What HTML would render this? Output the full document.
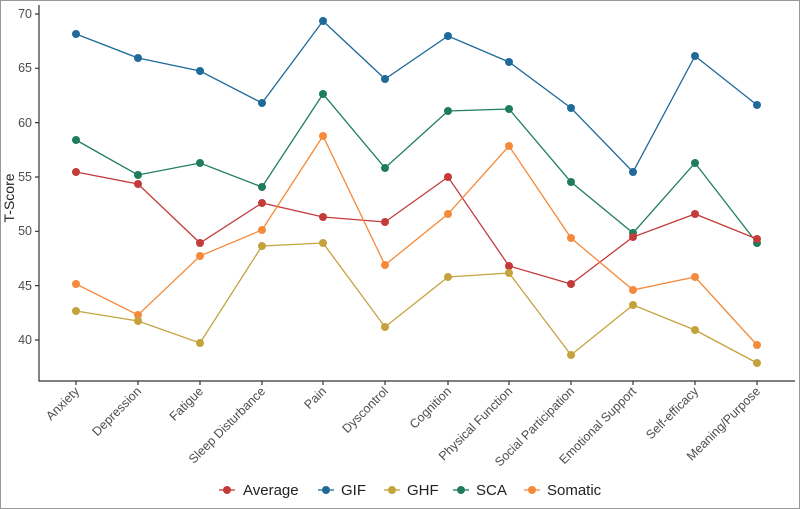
<!DOCTYPE html>
<html><head><style>body{margin:0;background:#fff}svg{display:block}text{font-family:"Liberation Sans",sans-serif}circle{r:4px}</style></head><body>
<svg width="800" height="509" viewBox="0 0 800 509" xmlns="http://www.w3.org/2000/svg">
<rect x="0.5" y="0.5" width="799" height="508" fill="#fff" stroke="#999"/>
<g stroke="#333" stroke-width="1.2" fill="none">
<path d="M39 5V381H795"/>
<path d="M35 14H39M35 68.3H39M35 122.6H39M35 177H39M35 231.3H39M35 285.6H39M35 340H39"/>
<path d="M76 381v4M138 381v4M200 381v4M262 381v4M323 381v4M385 381v4M448 381v4M509 381v4M571 381v4M633 381v4M695 381v4M757 381v4"/>
</g>
<g font-size="12.5" fill="#4d4d4d" text-anchor="end">
<text x="32" y="18">70</text><text x="32" y="72">65</text><text x="32" y="127">60</text><text x="32" y="181">55</text><text x="32" y="235">50</text><text x="32" y="290">45</text><text x="32" y="344">40</text>
</g>
<text transform="translate(14,198) rotate(-90)" font-size="14" fill="#222" text-anchor="middle">T-Score</text>
<g font-size="12.5" fill="#4d4d4d" text-anchor="end">
<text transform="translate(80,392) rotate(-45)">Anxiety</text>
<text transform="translate(142,392) rotate(-45)">Depression</text>
<text transform="translate(204,392) rotate(-45)">Fatigue</text>
<text transform="translate(266,392) rotate(-45)">Sleep Disturbance</text>
<text transform="translate(327,392) rotate(-45)">Pain</text>
<text transform="translate(389,392) rotate(-45)">Dyscontrol</text>
<text transform="translate(452,392) rotate(-45)">Cognition</text>
<text transform="translate(513,392) rotate(-45)">Physical Function</text>
<text transform="translate(575,392) rotate(-45)">Social Participation</text>
<text transform="translate(637,392) rotate(-45)">Emotional Support</text>
<text transform="translate(699,392) rotate(-45)">Self-efficacy</text>
<text transform="translate(761,392) rotate(-45)">Meaning/Purpose</text>
</g>
<g fill="none" stroke-width="1.3">
<polyline stroke="#1f6a99" points="76,34 138,58 200,71 262,103 323,21 385,79 448,36 509,62 571,108 633,172 695,56 757,105"/>
<polyline stroke="#1f7d5a" points="76,140 138,175 200,163 262,187 323,94 385,168 448,111 509,109 571,182 633,233 695,163 757,243"/>
<polyline stroke="#c43b3b" points="76,172 138,184 200,243 262,203 323,217 385,222 448,177 509,266 571,284 633,237 695,214 757,239"/>
<polyline stroke="#f58a3a" points="76,284 138,315 200,256 262,230 323,136 385,265 448,214 509,146 571,238 633,290 695,277 757,345"/>
<polyline stroke="#c4a23c" points="76,311 138,321 200,343 262,246 323,243 385,327 448,277 509,273 571,355 633,305 695,330 757,363"/>
</g>
<g fill="#1f6a99"><circle cx="76" cy="34" r="4"/><circle cx="138" cy="58" r="4"/><circle cx="200" cy="71" r="4"/><circle cx="262" cy="103" r="4"/><circle cx="323" cy="21" r="4"/><circle cx="385" cy="79" r="4"/><circle cx="448" cy="36" r="4"/><circle cx="509" cy="62" r="4"/><circle cx="571" cy="108" r="4"/><circle cx="633" cy="172" r="4"/><circle cx="695" cy="56" r="4"/><circle cx="757" cy="105" r="4"/></g>
<g fill="#1f7d5a"><circle cx="76" cy="140" r="4"/><circle cx="138" cy="175" r="4"/><circle cx="200" cy="163" r="4"/><circle cx="262" cy="187" r="4"/><circle cx="323" cy="94" r="4"/><circle cx="385" cy="168" r="4"/><circle cx="448" cy="111" r="4"/><circle cx="509" cy="109" r="4"/><circle cx="571" cy="182" r="4"/><circle cx="633" cy="233" r="4"/><circle cx="695" cy="163" r="4"/><circle cx="757" cy="243" r="4"/></g>
<g fill="#c43b3b"><circle cx="76" cy="172" r="4"/><circle cx="138" cy="184" r="4"/><circle cx="200" cy="243" r="4"/><circle cx="262" cy="203" r="4"/><circle cx="323" cy="217" r="4"/><circle cx="385" cy="222" r="4"/><circle cx="448" cy="177" r="4"/><circle cx="509" cy="266" r="4"/><circle cx="571" cy="284" r="4"/><circle cx="633" cy="237" r="4"/><circle cx="695" cy="214" r="4"/><circle cx="757" cy="239" r="4"/></g>
<g fill="#f58a3a"><circle cx="76" cy="284" r="4"/><circle cx="138" cy="315" r="4"/><circle cx="200" cy="256" r="4"/><circle cx="262" cy="230" r="4"/><circle cx="323" cy="136" r="4"/><circle cx="385" cy="265" r="4"/><circle cx="448" cy="214" r="4"/><circle cx="509" cy="146" r="4"/><circle cx="571" cy="238" r="4"/><circle cx="633" cy="290" r="4"/><circle cx="695" cy="277" r="4"/><circle cx="757" cy="345" r="4"/></g>
<g fill="#c4a23c"><circle cx="76" cy="311" r="4"/><circle cx="138" cy="321" r="4"/><circle cx="200" cy="343" r="4"/><circle cx="262" cy="246" r="4"/><circle cx="323" cy="243" r="4"/><circle cx="385" cy="327" r="4"/><circle cx="448" cy="277" r="4"/><circle cx="509" cy="273" r="4"/><circle cx="571" cy="355" r="4"/><circle cx="633" cy="305" r="4"/><circle cx="695" cy="330" r="4"/><circle cx="757" cy="363" r="4"/></g>
<g font-size="15" fill="#222" stroke-width="1.3">
<line x1="219" y1="490" x2="235" y2="490" stroke="#c43b3b"/><circle cx="227" cy="490" r="4" fill="#c43b3b"/><text x="243" y="495">Average</text>
<line x1="318" y1="490" x2="334" y2="490" stroke="#1f6a99"/><circle cx="326" cy="490" r="4" fill="#1f6a99"/><text x="341" y="495">GIF</text>
<line x1="384" y1="490" x2="400" y2="490" stroke="#c4a23c"/><circle cx="392" cy="490" r="4" fill="#c4a23c"/><text x="407" y="495">GHF</text>
<line x1="453" y1="490" x2="469" y2="490" stroke="#1f7d5a"/><circle cx="461" cy="490" r="4" fill="#1f7d5a"/><text x="476" y="495">SCA</text>
<line x1="524" y1="490" x2="540" y2="490" stroke="#f58a3a"/><circle cx="532" cy="490" r="4" fill="#f58a3a"/><text x="547" y="495">Somatic</text>
</g>
</svg>
</body></html>
